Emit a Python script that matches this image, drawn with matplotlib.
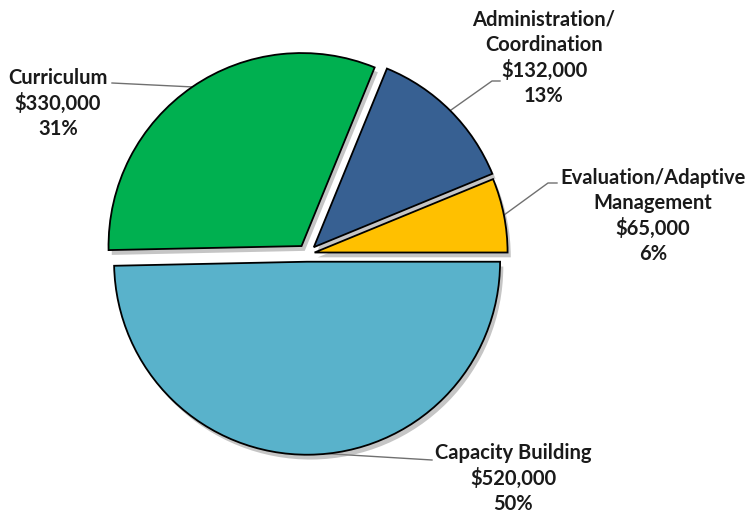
import numpy as np
import matplotlib.pyplot as plt

# datos del grafico (orden antihorario empezando a 0 grados)
categorias = ['Evaluation/Adaptive\nManagement', 'Administration/\nCoordination',
              'Curriculum', 'Capacity Building']
montos = [65000, 132000, 330000, 520000]
porcentajes = ['6%', '13%', '31%', '50%']
colores = ['#FFC000', '#376092', '#00B050', '#59B2CB']
separacion = [0.04, 0.05, 0.05, 0.04]

plt.rcParams['font.family'] = ['Lato', 'DejaVu Sans']

fig = plt.figure(figsize=(7.49, 5.2), dpi=100)
ax = fig.add_axes([0, 0, 1, 1])

cunas, _ = ax.pie(montos, colors=colores, startangle=0, counterclock=True,
                  explode=separacion, radius=1.0,
                  wedgeprops=dict(edgecolor='black', linewidth=1.3),
                  shadow=dict(ox=0.012, oy=-0.018, facecolor='#8c8c8c',
                              edgecolor='none', alpha=0.5))

# escala: 1 unidad = 193 px, centro en (307, 254)
esc = 193.0
cx, cy = 307.0, 254.0
ax.set_xlim(-cx / esc, (749 - cx) / esc)
ax.set_ylim(-(520 - cy) / esc, cy / esc)
ax.set_aspect('equal')
ax.axis('off')

# posiciones de las etiquetas en pixeles (x, y de la primera linea)
pos_texto = [(653, 168), (544, 10), (58, 68), (513, 443)]
ang_linea = [None, None, None, 276]

def px(x, y):
    return (x - cx) / esc, (cy - y) / esc

for i, w in enumerate(cunas):
    texto = categorias[i] + '\n${:,.0f}\n'.format(montos[i]) + porcentajes[i]
    tx, ty = px(*pos_texto[i])
    ax.text(tx, ty, texto, ha='center', va='top', fontsize=14.5,
            fontweight='bold', color='#1a1a1a', linespacing=1.3)
    ang = ang_linea[i] if ang_linea[i] else (w.theta1 + w.theta2) / 2
    x0 = w.center[0] + w.r * np.cos(np.radians(ang))
    y0 = w.center[1] + w.r * np.sin(np.radians(ang))
    if i == 0:
        fin = [px(548, 183), px(557, 183)]
    elif i == 1:
        fin = [px(492, 81), px(500, 81)]
    elif i == 2:
        fin = [px(112, 83)]
    else:
        fin = [px(432, 460)]
    xs = [x0] + [p[0] for p in fin]
    ys = [y0] + [p[1] for p in fin]
    ax.plot(xs, ys, color='#707070', linewidth=1.0, zorder=0.5)

fig.savefig('out.png', dpi=100, facecolor='white')
